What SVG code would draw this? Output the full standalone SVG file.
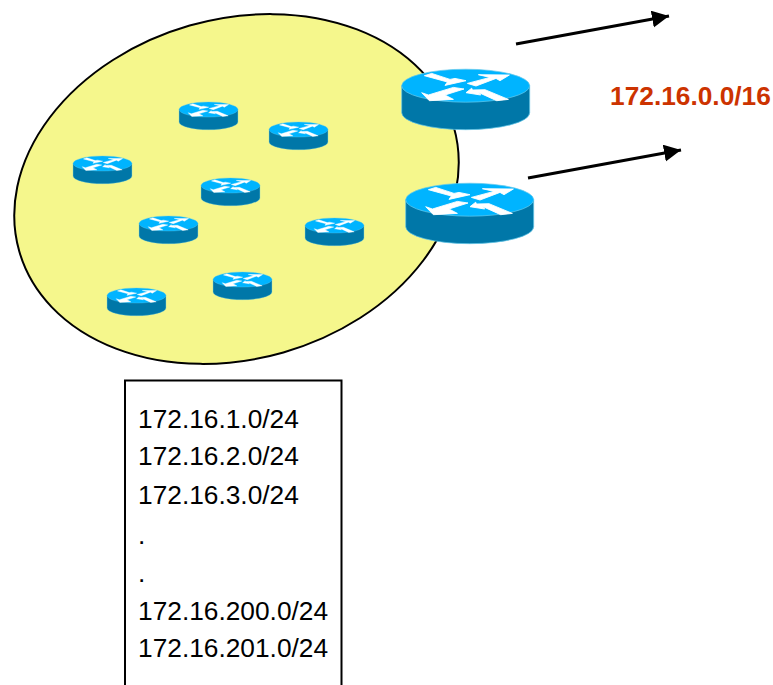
<svg xmlns="http://www.w3.org/2000/svg" width="773" height="685" viewBox="0 0 773 685">
<style>
.t{font-family:"Liberation Sans",Arial,sans-serif;font-size:26.300px;fill:#000}
.body{fill:#0077a8;stroke:#66c8ea;stroke-width:.7}
.top{fill:#00b4ff;stroke:#66c8ea;stroke-width:.7}
.ar{fill:#fff;stroke:#fff;stroke-width:.9;stroke-linejoin:round}
.conn{stroke:#000;stroke-width:3;fill:none;marker-end:url(#h)}
</style>
<defs>
<marker id="h" markerUnits="userSpaceOnUse" markerWidth="19" markerHeight="19" refX="17" refY="8.500" orient="auto"><path d="M0 0L17 8.500L0 17Z" fill="#000"/></marker>
<g id="r">
<path class="body" d="M-64 0V27A64 17 0 0 0 64 27V0Z"/>
<ellipse class="top" cx="0" cy="0" rx="64" ry="16.5"/>
<path class="ar" d="M-34 -12.300L-15.700 -6.300L-10.700 -7.300L.3 -5L-20.700 -.3L-18.300 -3.700L-41.300 -10Z"/>
<path class="ar" d="M1.700 -2.300L24.300 -8.300L12.700 -11L43.700 -10.700L34.300 -5L30.300 -7.300L10.300 .3Z"/>
<path class="ar" d="M-1.700 3.300L-20.700 9.300L-12.300 13.700L-36.300 15L-44 7L-37.300 9.300L-12.300 1.700Z"/>
<path class="ar" d="M.3 7L6 2.500L6.700 4.300L19.300 4L42.700 13.700L31 15L12.700 6.700L15 9.300Z"/>
</g>
</defs>
<g id="area"><ellipse cx="236.500" cy="189" rx="226" ry="170" transform="rotate(-16 236.500 189)" fill="#f5f78c" stroke="#000" stroke-width="2"/></g>
<g id="connectors">
<line class="conn" x1="516" y1="44" x2="669" y2="16"/>
<line class="conn" x1="528" y1="178" x2="681" y2="150"/>
</g>
<g id="router-big-1"><use href="#r" transform="translate(465.700 85.700)"/></g>
<g id="router-big-2"><use href="#r" transform="translate(469.700 199.700)"/></g>
<g id="router-1"><use href="#r" transform="translate(208.500 109.500) scale(.46)"/></g>
<g id="router-2"><use href="#r" transform="translate(298.500 129.500) scale(.46)"/></g>
<g id="router-3"><use href="#r" transform="translate(102.500 163.500) scale(.46)"/></g>
<g id="router-4"><use href="#r" transform="translate(230.500 185.500) scale(.46)"/></g>
<g id="router-5"><use href="#r" transform="translate(168.500 223.500) scale(.46)"/></g>
<g id="router-6"><use href="#r" transform="translate(334.500 225.500) scale(.46)"/></g>
<g id="router-7"><use href="#r" transform="translate(242.500 279.500) scale(.46)"/></g>
<g id="router-8"><use href="#r" transform="translate(136.500 295.500) scale(.46)"/></g>
<g id="list">
<path d="M125 685V380.500H341.500V685" fill="#fff" stroke="#000" stroke-width="2"/>
<text class="t" x="138" y="428">172.16.1.0/24</text>
<text class="t" x="138" y="465">172.16.2.0/24</text>
<text class="t" x="138" y="504">172.16.3.0/24</text>
<text class="t" x="138" y="544">.</text>
<text class="t" x="138" y="582">.</text>
<text class="t" x="138" y="620">172.16.200.0/24</text>
<text class="t" x="138" y="657">172.16.201.0/24</text>
</g>
<g id="label"><text x="610" y="105" font-family="'Liberation Sans',Arial,sans-serif" font-weight="bold" font-size="26.300" fill="#cc3300">172.16.0.0/16</text></g>
</svg>
